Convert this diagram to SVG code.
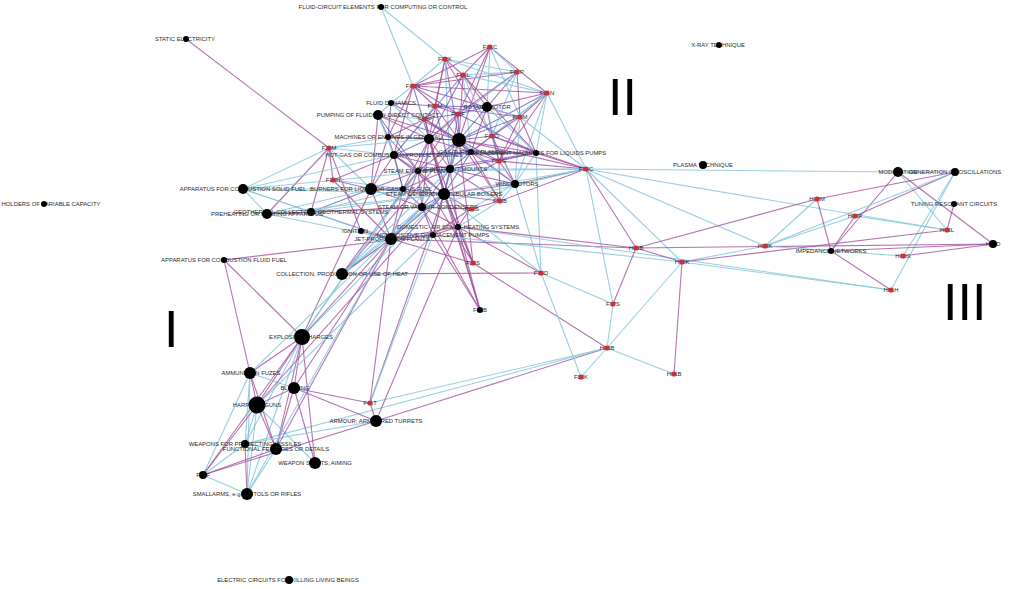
<svg xmlns="http://www.w3.org/2000/svg" width="1024" height="589" viewBox="0 0 1024 589">
<style>
.b{stroke:#86c5dc;stroke-width:1.1;opacity:.85}
.p{stroke:#a0509e;stroke-width:1.1;opacity:.8}
.d{stroke:#5a48b4;stroke-width:1.1;opacity:.7}
text{font-family:"Liberation Sans",Arial,sans-serif;font-size:5.9px;fill:#2a2a2a;text-anchor:middle}
.k{fill:#000}
.r{fill:#c8303c}
text.n{font-size:52px;fill:#000;text-anchor:start}
</style>
<rect width="1024" height="589" fill="#fff"/>
<g id="connectors" fill="none">
<line x1="490" y1="47" x2="463" y2="75" class="p"/><line x1="490" y1="47" x2="413" y2="86" class="p"/><line x1="490" y1="47" x2="487" y2="107" class="b"/><line x1="490" y1="47" x2="458" y2="114" class="p"/><line x1="490" y1="47" x2="520" y2="117" class="b"/><line x1="490" y1="47" x2="459" y2="140" class="p"/><line x1="490" y1="47" x2="547" y2="93" class="p"/><line x1="490" y1="47" x2="517" y2="72" class="b"/>
<line x1="445" y1="59" x2="517" y2="72" class="b"/><line x1="445" y1="59" x2="547" y2="93" class="b"/><line x1="445" y1="59" x2="463" y2="75" class="p"/><line x1="445" y1="59" x2="413" y2="86" class="b"/><line x1="445" y1="59" x2="435" y2="106" class="p"/><line x1="445" y1="59" x2="429" y2="139" class="p"/><line x1="445" y1="59" x2="492" y2="136" class="p"/><line x1="445" y1="59" x2="459" y2="140" class="d"/><line x1="445" y1="59" x2="450" y2="169" class="b"/>
<line x1="517" y1="72" x2="463" y2="75" class="b"/><line x1="517" y1="72" x2="413" y2="86" class="p"/><line x1="517" y1="72" x2="458" y2="114" class="p"/><line x1="517" y1="72" x2="492" y2="136" class="b"/><line x1="517" y1="72" x2="429" y2="139" class="b"/><line x1="517" y1="72" x2="520" y2="117" class="p"/><line x1="517" y1="72" x2="487" y2="107" class="d"/>
<line x1="463" y1="75" x2="413" y2="86" class="p"/><line x1="463" y1="75" x2="547" y2="93" class="b"/><line x1="463" y1="75" x2="487" y2="107" class="p"/><line x1="463" y1="75" x2="459" y2="140" class="p"/><line x1="463" y1="75" x2="425" y2="119" class="d"/><line x1="463" y1="75" x2="429" y2="139" class="d"/><line x1="463" y1="75" x2="492" y2="136" class="b"/><line x1="463" y1="75" x2="471" y2="152" class="b"/><line x1="463" y1="75" x2="536" y2="153" class="p"/>
<line x1="413" y1="86" x2="547" y2="93" class="p"/><line x1="413" y1="86" x2="391" y2="103" class="b"/><line x1="413" y1="86" x2="435" y2="106" class="p"/><line x1="413" y1="86" x2="520" y2="117" class="p"/><line x1="413" y1="86" x2="458" y2="114" class="d"/><line x1="413" y1="86" x2="388" y2="137" class="p"/><line x1="413" y1="86" x2="394" y2="155" class="p"/><line x1="413" y1="86" x2="429" y2="139" class="d"/>
<line x1="547" y1="93" x2="487" y2="107" class="p"/><line x1="547" y1="93" x2="520" y2="117" class="p"/><line x1="547" y1="93" x2="536" y2="153" class="b"/><line x1="547" y1="93" x2="515" y2="184" class="b"/><line x1="547" y1="93" x2="586" y2="169" class="b"/><line x1="547" y1="93" x2="459" y2="140" class="d"/><line x1="547" y1="93" x2="492" y2="136" class="b"/><line x1="547" y1="93" x2="471" y2="152" class="b"/><line x1="547" y1="93" x2="499" y2="161" class="p"/>
<line x1="391" y1="103" x2="435" y2="106" class="d"/><line x1="391" y1="103" x2="378" y2="115" class="b"/><line x1="391" y1="103" x2="429" y2="139" class="b"/><line x1="391" y1="103" x2="388" y2="137" class="d"/><line x1="391" y1="103" x2="459" y2="140" class="p"/>
<line x1="435" y1="106" x2="487" y2="107" class="d"/><line x1="435" y1="106" x2="458" y2="114" class="p"/><line x1="435" y1="106" x2="425" y2="119" class="p"/><line x1="435" y1="106" x2="459" y2="140" class="p"/><line x1="435" y1="106" x2="394" y2="155" class="b"/><line x1="435" y1="106" x2="450" y2="169" class="d"/><line x1="435" y1="106" x2="520" y2="117" class="p"/>
<line x1="487" y1="107" x2="458" y2="114" class="d"/><line x1="487" y1="107" x2="520" y2="117" class="b"/><line x1="487" y1="107" x2="459" y2="140" class="d"/><line x1="487" y1="107" x2="492" y2="136" class="p"/><line x1="487" y1="107" x2="471" y2="152" class="p"/><line x1="487" y1="107" x2="536" y2="153" class="b"/><line x1="487" y1="107" x2="499" y2="161" class="b"/>
<line x1="458" y1="114" x2="425" y2="119" class="d"/><line x1="458" y1="114" x2="429" y2="139" class="p"/><line x1="458" y1="114" x2="459" y2="140" class="d"/><line x1="458" y1="114" x2="418" y2="171" class="p"/><line x1="458" y1="114" x2="536" y2="153" class="d"/><line x1="458" y1="114" x2="450" y2="169" class="p"/>
<line x1="378" y1="115" x2="388" y2="137" class="d"/><line x1="378" y1="115" x2="429" y2="139" class="p"/><line x1="378" y1="115" x2="459" y2="140" class="p"/><line x1="378" y1="115" x2="394" y2="155" class="b"/><line x1="378" y1="115" x2="371" y2="189" class="p"/><line x1="378" y1="115" x2="418" y2="171" class="d"/><line x1="378" y1="115" x2="425" y2="119" class="b"/>
<line x1="425" y1="119" x2="388" y2="137" class="p"/><line x1="425" y1="119" x2="429" y2="139" class="d"/><line x1="425" y1="119" x2="459" y2="140" class="d"/><line x1="425" y1="119" x2="394" y2="155" class="d"/><line x1="425" y1="119" x2="444" y2="194" class="p"/><line x1="425" y1="119" x2="471" y2="152" class="p"/>
<line x1="520" y1="117" x2="492" y2="136" class="p"/><line x1="520" y1="117" x2="536" y2="153" class="p"/><line x1="520" y1="117" x2="459" y2="140" class="d"/><line x1="520" y1="117" x2="499" y2="161" class="p"/><line x1="520" y1="117" x2="515" y2="184" class="b"/><line x1="520" y1="117" x2="586" y2="169" class="b"/>
<line x1="388" y1="137" x2="429" y2="139" class="d"/><line x1="388" y1="137" x2="394" y2="155" class="p"/><line x1="388" y1="137" x2="459" y2="140" class="d"/><line x1="388" y1="137" x2="329" y2="148" class="b"/><line x1="388" y1="137" x2="418" y2="171" class="p"/><line x1="388" y1="137" x2="371" y2="189" class="p"/><line x1="388" y1="137" x2="403" y2="189" class="b"/>
<line x1="429" y1="139" x2="459" y2="140" class="d"/><line x1="429" y1="139" x2="394" y2="155" class="d"/><line x1="429" y1="139" x2="471" y2="152" class="p"/><line x1="429" y1="139" x2="418" y2="171" class="d"/><line x1="429" y1="139" x2="450" y2="169" class="p"/><line x1="429" y1="139" x2="444" y2="194" class="d"/><line x1="429" y1="139" x2="422" y2="207" class="p"/><line x1="429" y1="139" x2="403" y2="189" class="p"/>
<line x1="459" y1="140" x2="492" y2="136" class="d"/><line x1="459" y1="140" x2="471" y2="152" class="d"/><line x1="459" y1="140" x2="536" y2="153" class="p"/><line x1="459" y1="140" x2="499" y2="161" class="p"/><line x1="459" y1="140" x2="450" y2="169" class="d"/><line x1="459" y1="140" x2="444" y2="194" class="p"/><line x1="459" y1="140" x2="418" y2="171" class="d"/><line x1="459" y1="140" x2="500" y2="201" class="p"/><line x1="459" y1="140" x2="433" y2="235" class="b"/><line x1="459" y1="140" x2="515" y2="184" class="b"/>
<line x1="492" y1="136" x2="471" y2="152" class="p"/><line x1="492" y1="136" x2="536" y2="153" class="p"/><line x1="492" y1="136" x2="499" y2="161" class="d"/><line x1="492" y1="136" x2="515" y2="184" class="p"/><line x1="492" y1="136" x2="586" y2="169" class="p"/>
<line x1="329" y1="148" x2="394" y2="155" class="b"/><line x1="329" y1="148" x2="371" y2="189" class="b"/><line x1="329" y1="148" x2="243" y2="189" class="b"/><line x1="329" y1="148" x2="311" y2="212" class="p"/><line x1="329" y1="148" x2="333" y2="180" class="p"/><line x1="329" y1="148" x2="267" y2="214" class="p"/><line x1="329" y1="148" x2="429" y2="139" class="b"/><line x1="329" y1="148" x2="361" y2="231" class="p"/>
<line x1="394" y1="155" x2="471" y2="152" class="d"/><line x1="394" y1="155" x2="536" y2="153" class="d"/><line x1="394" y1="155" x2="418" y2="171" class="d"/><line x1="394" y1="155" x2="371" y2="189" class="p"/><line x1="394" y1="155" x2="403" y2="189" class="d"/><line x1="394" y1="155" x2="450" y2="169" class="p"/><line x1="394" y1="155" x2="444" y2="194" class="p"/><line x1="394" y1="155" x2="333" y2="180" class="p"/><line x1="394" y1="155" x2="243" y2="189" class="b"/>
<line x1="471" y1="152" x2="536" y2="153" class="d"/><line x1="471" y1="152" x2="499" y2="161" class="p"/><line x1="471" y1="152" x2="450" y2="169" class="d"/><line x1="471" y1="152" x2="515" y2="184" class="p"/><line x1="471" y1="152" x2="444" y2="194" class="d"/><line x1="471" y1="152" x2="500" y2="201" class="p"/>
<line x1="536" y1="153" x2="499" y2="161" class="p"/><line x1="536" y1="153" x2="515" y2="184" class="b"/><line x1="536" y1="153" x2="586" y2="169" class="p"/><line x1="536" y1="153" x2="450" y2="169" class="d"/><line x1="536" y1="153" x2="541" y2="273" class="b"/><line x1="536" y1="153" x2="418" y2="171" class="p"/>
<line x1="499" y1="161" x2="515" y2="184" class="p"/><line x1="499" y1="161" x2="500" y2="201" class="p"/><line x1="499" y1="161" x2="444" y2="194" class="d"/><line x1="499" y1="161" x2="586" y2="169" class="p"/>
<line x1="418" y1="171" x2="450" y2="169" class="d"/><line x1="418" y1="171" x2="371" y2="189" class="p"/><line x1="418" y1="171" x2="403" y2="189" class="d"/><line x1="418" y1="171" x2="444" y2="194" class="p"/><line x1="418" y1="171" x2="422" y2="207" class="d"/><line x1="418" y1="171" x2="391" y2="239" class="p"/>
<line x1="450" y1="169" x2="444" y2="194" class="d"/><line x1="450" y1="169" x2="515" y2="184" class="p"/><line x1="450" y1="169" x2="500" y2="201" class="p"/><line x1="450" y1="169" x2="422" y2="207" class="d"/><line x1="450" y1="169" x2="403" y2="189" class="p"/><line x1="450" y1="169" x2="458" y2="227" class="p"/>
<line x1="515" y1="184" x2="444" y2="194" class="p"/><line x1="515" y1="184" x2="500" y2="201" class="b"/><line x1="515" y1="184" x2="586" y2="169" class="p"/><line x1="515" y1="184" x2="470" y2="209" class="b"/><line x1="515" y1="184" x2="541" y2="273" class="b"/>
<line x1="333" y1="180" x2="371" y2="189" class="p"/><line x1="333" y1="180" x2="403" y2="189" class="b"/><line x1="333" y1="180" x2="391" y2="239" class="p"/>
<line x1="371" y1="189" x2="403" y2="189" class="d"/><line x1="371" y1="189" x2="444" y2="194" class="d"/><line x1="371" y1="189" x2="243" y2="189" class="b"/><line x1="371" y1="189" x2="267" y2="214" class="b"/><line x1="371" y1="189" x2="311" y2="212" class="d"/><line x1="371" y1="189" x2="391" y2="239" class="p"/><line x1="371" y1="189" x2="422" y2="207" class="p"/>
<line x1="403" y1="189" x2="444" y2="194" class="d"/><line x1="403" y1="189" x2="422" y2="207" class="d"/><line x1="403" y1="189" x2="391" y2="239" class="p"/><line x1="403" y1="189" x2="311" y2="212" class="b"/>
<line x1="444" y1="194" x2="500" y2="201" class="p"/><line x1="444" y1="194" x2="422" y2="207" class="d"/><line x1="444" y1="194" x2="470" y2="209" class="p"/><line x1="444" y1="194" x2="391" y2="239" class="d"/><line x1="444" y1="194" x2="433" y2="235" class="p"/><line x1="444" y1="194" x2="458" y2="227" class="d"/>
<line x1="500" y1="201" x2="470" y2="209" class="p"/><line x1="500" y1="201" x2="586" y2="169" class="p"/><line x1="500" y1="201" x2="458" y2="227" class="b"/>
<line x1="422" y1="207" x2="470" y2="209" class="p"/><line x1="422" y1="207" x2="391" y2="239" class="p"/><line x1="422" y1="207" x2="433" y2="235" class="d"/><line x1="422" y1="207" x2="458" y2="227" class="p"/>
<line x1="470" y1="209" x2="458" y2="227" class="p"/><line x1="470" y1="209" x2="433" y2="235" class="p"/>
<line x1="311" y1="212" x2="267" y2="214" class="b"/><line x1="311" y1="212" x2="391" y2="239" class="d"/><line x1="311" y1="212" x2="243" y2="189" class="b"/><line x1="311" y1="212" x2="422" y2="207" class="p"/><line x1="311" y1="212" x2="444" y2="194" class="b"/>
<line x1="267" y1="214" x2="243" y2="189" class="b"/><line x1="267" y1="214" x2="444" y2="194" class="b"/><line x1="267" y1="214" x2="391" y2="239" class="b"/><line x1="267" y1="214" x2="422" y2="207" class="p"/>
<line x1="361" y1="231" x2="391" y2="239" class="p"/><line x1="391" y1="239" x2="433" y2="235" class="d"/><line x1="391" y1="239" x2="458" y2="227" class="p"/><line x1="391" y1="239" x2="342" y2="274" class="b"/><line x1="433" y1="235" x2="458" y2="227" class="p"/><line x1="458" y1="227" x2="473" y2="263" class="p"/>
<line x1="586" y1="169" x2="444" y2="194" class="b"/><line x1="586" y1="169" x2="459" y2="140" class="p"/><line x1="586" y1="169" x2="418" y2="171" class="b"/><line x1="586" y1="169" x2="450" y2="169" class="b"/><line x1="586" y1="169" x2="422" y2="207" class="b"/>
<line x1="243" y1="189" x2="444" y2="194" class="b"/><line x1="243" y1="189" x2="391" y2="239" class="b"/><line x1="243" y1="189" x2="450" y2="169" class="b"/>
<line x1="224" y1="260" x2="433" y2="235" class="p"/>
<line x1="342" y1="274" x2="541" y2="273" class="p"/><line x1="342" y1="274" x2="444" y2="194" class="b"/><line x1="342" y1="274" x2="391" y2="239" class="p"/><line x1="342" y1="274" x2="459" y2="140" class="p"/><line x1="342" y1="274" x2="418" y2="171" class="p"/><line x1="342" y1="274" x2="450" y2="169" class="b"/><line x1="342" y1="274" x2="422" y2="207" class="b"/>
<line x1="473" y1="263" x2="444" y2="194" class="p"/><line x1="473" y1="263" x2="391" y2="239" class="p"/><line x1="473" y1="263" x2="429" y2="139" class="p"/><line x1="473" y1="263" x2="459" y2="140" class="p"/><line x1="473" y1="263" x2="418" y2="171" class="p"/>
<line x1="541" y1="273" x2="458" y2="227" class="p"/><line x1="541" y1="273" x2="444" y2="194" class="b"/>
<line x1="480" y1="310" x2="444" y2="194" class="p"/><line x1="480" y1="310" x2="433" y2="235" class="p"/><line x1="480" y1="310" x2="458" y2="227" class="p"/><line x1="480" y1="310" x2="422" y2="207" class="p"/><line x1="480" y1="310" x2="429" y2="139" class="p"/>
<line x1="381" y1="7" x2="445" y2="59" class="b"/><line x1="381" y1="7" x2="413" y2="86" class="b"/>
<line x1="186" y1="39" x2="329" y2="148" class="p"/>
<line x1="586" y1="169" x2="898" y2="172" class="b"/><line x1="586" y1="169" x2="636" y2="248" class="p"/><line x1="586" y1="169" x2="682" y2="262" class="b"/><line x1="586" y1="169" x2="765" y2="246" class="b"/><line x1="586" y1="169" x2="947" y2="230" class="b"/><line x1="586" y1="169" x2="613" y2="304" class="b"/>
<line x1="391" y1="239" x2="636" y2="248" class="p"/><line x1="433" y1="235" x2="682" y2="262" class="b"/><line x1="458" y1="227" x2="891" y2="290" class="b"/><line x1="458" y1="227" x2="636" y2="248" class="p"/><line x1="473" y1="263" x2="607" y2="348" class="p"/>
<line x1="898" y1="172" x2="993" y2="244" class="p"/><line x1="898" y1="172" x2="831" y2="251" class="p"/><line x1="898" y1="172" x2="947" y2="230" class="b"/><line x1="898" y1="172" x2="955" y2="172" class="b"/>
<line x1="955" y1="172" x2="817" y2="199" class="p"/><line x1="955" y1="172" x2="855" y2="216" class="p"/><line x1="955" y1="172" x2="903" y2="256" class="b"/><line x1="955" y1="172" x2="765" y2="246" class="b"/><line x1="955" y1="172" x2="891" y2="290" class="b"/>
<line x1="954" y1="204" x2="947" y2="230" class="p"/>
<line x1="817" y1="199" x2="831" y2="251" class="p"/><line x1="817" y1="199" x2="636" y2="248" class="p"/><line x1="817" y1="199" x2="765" y2="246" class="b"/>
<line x1="855" y1="216" x2="947" y2="230" class="b"/><line x1="855" y1="216" x2="831" y2="251" class="p"/><line x1="855" y1="216" x2="765" y2="246" class="b"/>
<line x1="765" y1="246" x2="682" y2="262" class="b"/><line x1="831" y1="251" x2="993" y2="244" class="p"/><line x1="831" y1="251" x2="891" y2="290" class="p"/><line x1="993" y1="244" x2="903" y2="256" class="p"/><line x1="993" y1="244" x2="636" y2="248" class="p"/><line x1="947" y1="230" x2="682" y2="262" class="p"/><line x1="891" y1="290" x2="682" y2="262" class="b"/><line x1="903" y1="256" x2="765" y2="246" class="b"/>
<line x1="636" y1="248" x2="613" y2="304" class="p"/><line x1="636" y1="248" x2="682" y2="262" class="p"/><line x1="682" y1="262" x2="674" y2="374" class="p"/><line x1="682" y1="262" x2="607" y2="348" class="b"/>
<line x1="613" y1="304" x2="541" y2="273" class="b"/><line x1="613" y1="304" x2="607" y2="348" class="b"/>
<line x1="607" y1="348" x2="370" y2="403" class="b"/><line x1="607" y1="348" x2="376" y2="421" class="p"/><line x1="607" y1="348" x2="674" y2="374" class="b"/><line x1="607" y1="348" x2="581" y2="377" class="b"/><line x1="581" y1="377" x2="541" y2="273" class="b"/><line x1="607" y1="348" x2="245" y2="444" class="b"/>
<line x1="224" y1="260" x2="302" y2="337" class="p"/><line x1="224" y1="260" x2="250" y2="373" class="p"/>
<line x1="302" y1="337" x2="250" y2="373" class="p"/><line x1="302" y1="337" x2="257" y2="405" class="p"/><line x1="302" y1="337" x2="294" y2="388" class="p"/><line x1="302" y1="337" x2="247" y2="494" class="b"/><line x1="302" y1="337" x2="203" y2="475" class="p"/><line x1="302" y1="337" x2="245" y2="444" class="b"/><line x1="302" y1="337" x2="276" y2="449" class="p"/><line x1="302" y1="337" x2="315" y2="463" class="p"/><line x1="302" y1="337" x2="371" y2="189" class="p"/><line x1="302" y1="337" x2="403" y2="189" class="b"/><line x1="302" y1="337" x2="418" y2="171" class="b"/><line x1="302" y1="337" x2="444" y2="194" class="b"/><line x1="302" y1="337" x2="391" y2="239" class="p"/>
<line x1="250" y1="373" x2="294" y2="388" class="b"/><line x1="250" y1="373" x2="257" y2="405" class="p"/><line x1="250" y1="373" x2="203" y2="475" class="b"/><line x1="250" y1="373" x2="247" y2="494" class="b"/><line x1="250" y1="373" x2="276" y2="449" class="p"/><line x1="250" y1="373" x2="245" y2="444" class="b"/><line x1="250" y1="373" x2="422" y2="207" class="b"/>
<line x1="294" y1="388" x2="376" y2="421" class="p"/><line x1="294" y1="388" x2="370" y2="403" class="p"/><line x1="294" y1="388" x2="315" y2="463" class="p"/><line x1="294" y1="388" x2="276" y2="449" class="p"/><line x1="294" y1="388" x2="257" y2="405" class="p"/><line x1="294" y1="388" x2="391" y2="239" class="p"/>
<line x1="257" y1="405" x2="276" y2="449" class="p"/><line x1="257" y1="405" x2="245" y2="444" class="b"/><line x1="257" y1="405" x2="247" y2="494" class="b"/><line x1="257" y1="405" x2="203" y2="475" class="p"/><line x1="257" y1="405" x2="444" y2="194" class="p"/><line x1="257" y1="405" x2="433" y2="235" class="b"/>
<line x1="376" y1="421" x2="203" y2="475" class="p"/><line x1="376" y1="421" x2="245" y2="444" class="b"/><line x1="376" y1="421" x2="370" y2="403" class="p"/><line x1="376" y1="421" x2="458" y2="227" class="p"/>
<line x1="370" y1="403" x2="444" y2="194" class="p"/><line x1="370" y1="403" x2="391" y2="239" class="p"/><line x1="370" y1="403" x2="433" y2="235" class="b"/>
<line x1="245" y1="444" x2="203" y2="475" class="b"/><line x1="245" y1="444" x2="247" y2="494" class="p"/><line x1="245" y1="444" x2="276" y2="449" class="b"/>
<line x1="276" y1="449" x2="203" y2="475" class="p"/><line x1="276" y1="449" x2="247" y2="494" class="b"/><line x1="315" y1="463" x2="257" y2="405" class="b"/><line x1="203" y1="475" x2="247" y2="494" class="b"/><line x1="276" y1="449" x2="391" y2="239" class="p"/><line x1="247" y1="494" x2="391" y2="239" class="b"/>
</g>
<g id="n-fluidcircuit"><text x="383" y="9">FLUID-CIRCUIT ELEMENTS FOR COMPUTING OR CONTROL</text><circle cx="381" cy="7" r="3" class="k"/></g>
<g id="n-static"><text x="185" y="41">STATIC ELECTRICITY</text><circle cx="186" cy="39" r="3" class="k"/></g>
<g id="n-xray"><text x="718" y="47">X-RAY TECHNIQUE</text><circle cx="719" cy="45" r="3" class="k"/></g>
<g id="n-holders"><text x="51" y="206">HOLDERS OF VARIABLE CAPACITY</text><circle cx="44" cy="204" r="3" class="k"/></g>
<g id="n-electric"><text x="288" y="582">ELECTRIC CIRCUITS FOR KILLING LIVING BEINGS</text><circle cx="289" cy="580" r="4" class="k"/></g>
<g id="n-plasma"><text x="703" y="167">PLASMA TECHNIQUE</text><circle cx="703" cy="165" r="4" class="k"/></g>
<g id="n-f01c"><text x="490" y="49">F01C</text><circle cx="490" cy="47" r="2.6" class="r"/></g>
<g id="n-f02k"><text x="445" y="61">F02K</text><circle cx="445" cy="59" r="2.6" class="r"/></g>
<g id="n-f01p"><text x="517" y="74">F01P</text><circle cx="517" cy="72" r="2.6" class="r"/></g>
<g id="n-f01l"><text x="463" y="77">F01L</text><circle cx="463" cy="75" r="2.6" class="r"/></g>
<g id="n-f02n"><text x="413" y="88">F02N</text><circle cx="413" cy="86" r="2.6" class="r"/></g>
<g id="n-f01n"><text x="547" y="95">F01N</text><circle cx="547" cy="93" r="2.6" class="r"/></g>
<g id="n-fluiddyn"><text x="391" y="105">FLUID DYNAMICS</text><circle cx="391" cy="103" r="3" class="k"/></g>
<g id="n-f02m"><text x="435" y="108">F02M</text><circle cx="435" cy="106" r="2.6" class="r"/></g>
<g id="n-rotary"><text x="487" y="109">ROTARY MOTOR</text><circle cx="487" cy="107" r="5" class="k"/></g>
<g id="n-f02f"><text x="458" y="116">F02F</text><circle cx="458" cy="114" r="2.6" class="r"/></g>
<g id="n-pumping"><text x="378" y="117">PUMPING OF FLUIDS BY DIRECT CONTACT</text><circle cx="378" cy="115" r="5" class="k"/></g>
<g id="n-f02p"><text x="425" y="121">F02P</text><circle cx="425" cy="119" r="2.6" class="r"/></g>
<g id="n-f01m"><text x="520" y="119">F01M</text><circle cx="520" cy="117" r="2.6" class="r"/></g>
<g id="n-machines"><text x="388" y="139">MACHINES OR ENGINES IN GENERAL</text><circle cx="388" cy="137" r="3" class="k"/></g>
<g id="n-o"><circle cx="429" cy="139" r="5" class="k"/></g>
<g id="n-p"><circle cx="459" cy="140" r="7" class="k"/></g>
<g id="n-f02d"><text x="492" y="138">F02D</text><circle cx="492" cy="136" r="2.6" class="r"/></g>
<g id="n-f23m"><text x="329" y="150">F23M</text><circle cx="329" cy="148" r="2.6" class="r"/></g>
<g id="n-hotgas"><text x="394" y="157">HOT-GAS OR COMBUSTION-PRODUCT ENGINES</text><circle cx="394" cy="155" r="4" class="k"/></g>
<g id="n-gasturbine"><text x="471" y="154">GAS-TURBINE PLANTS</text><circle cx="471" cy="152" r="3" class="k"/></g>
<g id="n-posdisp"><text x="536" y="155">DISPLACEMENT MACHINES FOR LIQUIDS PUMPS</text><circle cx="536" cy="153" r="3" class="k"/></g>
<g id="n-f02g"><text x="499" y="163">F02G</text><circle cx="499" cy="161" r="2.6" class="r"/></g>
<g id="n-steamplants"><text x="418" y="173">STEAM ENGINE PLANTS</text><circle cx="418" cy="171" r="3" class="k"/></g>
<g id="n-mounts"><text x="452" y="171">ENGINE PLANT MOUNTS</text><circle cx="450" cy="169" r="4" class="k"/></g>
<g id="n-wind"><text x="517" y="186">WIND MOTORS</text><circle cx="515" cy="184" r="4" class="k"/></g>
<g id="n-f23h"><text x="333" y="182">F23H</text><circle cx="333" cy="180" r="2.6" class="r"/></g>
<g id="n-burners"><text x="371" y="191">BURNERS FOR LIQUID OR GASEOUS FUEL</text><circle cx="371" cy="189" r="6" class="k"/></g>
<g id="n-ab"><circle cx="403" cy="189" r="3" class="k"/></g>
<g id="n-steamgen"><text x="444" y="196">STEAM GENERATION TUBULAR BOILERS</text><circle cx="444" cy="194" r="6" class="k"/></g>
<g id="n-f02b"><text x="500" y="203">F02B</text><circle cx="500" cy="201" r="2.6" class="r"/></g>
<g id="n-condensers"><text x="428" y="209">STEAM OR VAPOUR CONDENSERS</text><circle cx="422" cy="207" r="4" class="k"/></g>
<g id="n-f22g"><text x="472" y="211">F22G</text><circle cx="472" cy="209" r="2.6" class="r"/></g>
<g id="n-geothermal"><text x="311" y="214">GEOTHERMAL COLLECTORS GEOTHERMAL SYSTEMS</text><circle cx="311" cy="212" r="4" class="k"/></g>
<g id="n-preheating"><text x="267" y="216">PREHEATING OR HEATING APPARATUS</text><circle cx="267" cy="214" r="5" class="k"/></g>
<g id="n-ignition"><text x="355" y="233">IGNITION</text><circle cx="361" cy="231" r="3" class="k"/></g>
<g id="n-jet"><text x="392" y="241">JET-PROPULSION PLANTS</text><circle cx="391" cy="239" r="6" class="k"/></g>
<g id="n-nonpos"><text x="433" y="237">NON-POSITIVE-DISPLACEMENT PUMPS</text><circle cx="433" cy="235" r="3" class="k"/></g>
<g id="n-domestic"><text x="458" y="229">DOMESTIC- OR SPACE-HEATING SYSTEMS</text><circle cx="458" cy="227" r="3" class="k"/></g>
<g id="n-f04c"><text x="586" y="171">F04C</text><circle cx="586" cy="169" r="2.6" class="r"/></g>
<g id="n-appsolid"><text x="243" y="191">APPARATUS FOR COMBUSTION SOLID FUEL</text><circle cx="243" cy="189" r="5" class="k"/></g>
<g id="n-appfluid"><text x="224" y="262">APPARATUS FOR COMBUSTION FLUID FUEL</text><circle cx="224" cy="260" r="3" class="k"/></g>
<g id="n-collection"><text x="342" y="276">COLLECTION, PRODUCTION OR USE OF HEAT</text><circle cx="342" cy="274" r="6" class="k"/></g>
<g id="n-f24s"><text x="473" y="265">F24S</text><circle cx="473" cy="263" r="2.6" class="r"/></g>
<g id="n-f16d"><text x="541" y="275">F16D</text><circle cx="541" cy="273" r="2.6" class="r"/></g>
<g id="n-f01b"><text x="480" y="312">F01B</text><circle cx="480" cy="310" r="3" class="k"/></g>
<g id="n-f17s"><text x="613" y="306">F17S</text><circle cx="613" cy="304" r="2.6" class="r"/></g>
<g id="n-f23k"><text x="581" y="379">F23K</text><circle cx="581" cy="377" r="2.6" class="r"/></g>
<g id="n-h02b"><text x="636" y="250">H02B</text><circle cx="636" cy="248" r="2.6" class="r"/></g>
<g id="n-h02k"><text x="682" y="264">H02K</text><circle cx="682" cy="262" r="2.6" class="r"/></g>
<g id="n-h03k"><text x="765" y="248">H03K</text><circle cx="765" cy="246" r="2.6" class="r"/></g>
<g id="n-h03m"><text x="817" y="201">H03M</text><circle cx="817" cy="199" r="2.6" class="r"/></g>
<g id="n-h03f"><text x="855" y="218">H03F</text><circle cx="855" cy="216" r="2.6" class="r"/></g>
<g id="n-h03l"><text x="947" y="232">H03L</text><circle cx="947" cy="230" r="2.6" class="r"/></g>
<g id="n-h03g"><text x="903" y="258">H03G</text><circle cx="903" cy="256" r="2.6" class="r"/></g>
<g id="n-h01h"><text x="891" y="292">H01H</text><circle cx="891" cy="290" r="2.6" class="r"/></g>
<g id="n-h05b"><text x="607" y="350">H05B</text><circle cx="607" cy="348" r="2.6" class="r"/></g>
<g id="n-h01b"><text x="674" y="376">H01B</text><circle cx="674" cy="374" r="2.6" class="r"/></g>
<g id="n-modulation"><text x="898" y="174">MODULATION</text><circle cx="898" cy="172" r="5" class="k"/></g>
<g id="n-generation"><text x="955" y="174">GENERATION OF OSCILLATIONS</text><circle cx="955" cy="172" r="4" class="k"/></g>
<g id="n-tuning"><text x="954" y="206">TUNING RESONANT CIRCUITS</text><circle cx="954" cy="204" r="3" class="k"/></g>
<g id="n-impedance"><text x="831" y="253">IMPEDANCE NETWORKS</text><circle cx="831" cy="251" r="3" class="k"/></g>
<g id="n-h03d"><text x="993" y="246">H03D</text><circle cx="993" cy="244" r="4" class="k"/></g>
<g id="n-explosive"><text x="301" y="339">EXPLOSIVE CHARGES</text><circle cx="302" cy="337" r="8" class="k"/></g>
<g id="n-ammunition"><text x="251" y="375">AMMUNITION FUZES</text><circle cx="250" cy="373" r="6" class="k"/></g>
<g id="n-blasting"><text x="295" y="390">BLASTING</text><circle cx="294" cy="388" r="6" class="k"/></g>
<g id="n-harpoon"><text x="257" y="407">HARPOON GUNS</text><circle cx="257" cy="405" r="8.5" class="k"/></g>
<g id="n-f41t"><text x="370" y="405">F41T</text><circle cx="370" cy="403" r="2.6" class="r"/></g>
<g id="n-armour"><text x="376" y="423">ARMOUR; ARMOURED TURRETS</text><circle cx="376" cy="421" r="6" class="k"/></g>
<g id="n-weapons"><text x="245" y="446">WEAPONS FOR PROJECTING MISSILES</text><circle cx="245" cy="444" r="4" class="k"/></g>
<g id="n-functional"><text x="276" y="451">FUNCTIONAL FEATURES OR DETAILS</text><circle cx="276" cy="449" r="6" class="k"/></g>
<g id="n-sights"><text x="315" y="465">WEAPON SIGHTS; AIMING</text><circle cx="315" cy="463" r="6" class="k"/></g>
<g id="n-f41f"><text x="203" y="477">F41F</text><circle cx="203" cy="475" r="4" class="k"/></g>
<g id="n-smallarms"><text x="247" y="496">SMALLARMS, e.g. PISTOLS OR RIFLES</text><circle cx="247" cy="494" r="6" class="k"/></g>
<text class="n" x="164" y="347">I</text>
<text class="n" x="608" y="115">II</text>
<text class="n" x="943" y="320">III</text>
</svg>
